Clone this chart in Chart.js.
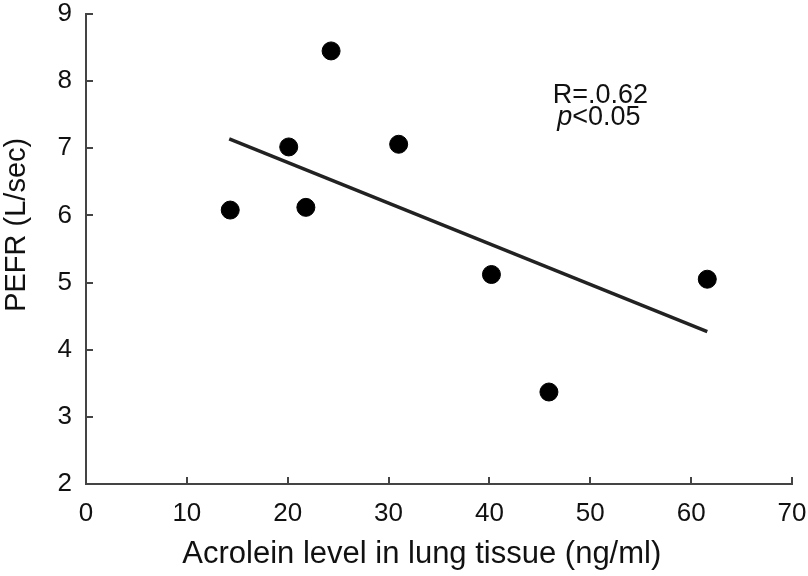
<!DOCTYPE html>
<html>
<head>
<meta charset="utf-8">
<script src="https://cdn.jsdelivr.net/npm/chart.js@4.4.1/dist/chart.umd.min.js"></script>
<style>
  html, body { margin: 0; padding: 0; background: #fff; }
  #wrap { width: 808px; height: 576px; }
</style>
</head>
<body>
<div id="wrap"><canvas id="chart"></canvas></div>
<script>
// values
const acrolein = [14.3, 20.1, 21.8, 24.3, 31.0, 40.2, 45.9, 61.6];
const pefr = [6.08, 7.02, 6.12, 8.45, 7.06, 5.12, 3.37, 5.05];
const trendX = [14.2, 61.6];
const trendY = [7.14, 4.27];
const statLines = ['R=.0.62', '<0.05'];

const FONT = "'Liberation Sans', Arial, Helvetica, sans-serif";

// small plugin for the R / p text
const statText = {
  id: 'statText',
  afterDatasetsDraw(chart) {
    const ctx = chart.ctx;
    const xs = chart.scales.x, ys = chart.scales.y;
    const cx = xs.getPixelForValue(51.0);
    const cy = ys.getPixelForValue(7.78);
    ctx.save();
    ctx.fillStyle = '#111';
    ctx.textBaseline = 'middle';
    ctx.font = '27px ' + FONT;
    ctx.textAlign = 'center';
    ctx.fillText(statLines[0], cx, cy);
    // second line with italic p
    const y2 = cy + 22;
    ctx.font = 'italic 27px ' + FONT;
    const wp = ctx.measureText('p').width;
    ctx.font = '27px ' + FONT;
    const wr = ctx.measureText(statLines[1]).width;
    let x0 = cx - 1.5 - (wp + wr) / 2;
    ctx.textAlign = 'left';
    ctx.font = 'italic 27px ' + FONT;
    ctx.fillText('p', x0, y2);
    ctx.font = '27px ' + FONT;
    ctx.fillText(statLines[1], x0 + wp, y2);
    ctx.restore();
  }
};

const ctx = document.getElementById('chart').getContext('2d');
new Chart(ctx, {
  type: 'scatter',
  data: {
    datasets: [
      {
        label: 'PEFR',
        data: acrolein.map((v, i) => ({ x: v, y: pefr[i] })),
        backgroundColor: '#000',
        borderColor: '#000',
        pointRadius: 9,
        pointHoverRadius: 9,
        order: 0
      },
      {
        type: 'line',
        label: 'fit',
        data: trendX.map((v, i) => ({ x: v, y: trendY[i] })),
        borderColor: '#222',
        borderWidth: 3.5,
        pointRadius: 0,
        fill: false,
        order: 1
      }
    ]
  },
  options: {
    responsive: true,
    maintainAspectRatio: false,
    animation: false,
    layout: { padding: { top: 14, right: 16, bottom: 0, left: 0 } },
    plugins: { legend: { display: false }, tooltip: { enabled: false } },
    scales: {
      x: {
        type: 'linear',
        min: 0, max: 70,
        afterFit(scale) {
          scale.height = 92;
          scale.paddingLeft = 0;
          scale.paddingRight = 0;
        },
        ticks: { stepSize: 10, color: '#111', padding: 21, font: { family: FONT, size: 26 } },
        grid: { drawOnChartArea: false, drawTicks: true, tickLength: -7, color: '#444', lineWidth: 2 },
        border: { display: true, color: '#444', width: 2 },
        title: {
          display: true,
          text: 'Acrolein level in lung tissue (ng/ml)    ',
          color: '#111',
          font: { family: FONT, size: 31 },
          padding: { top: 0, bottom: 3 }
        }
      },
      y: {
        min: 2, max: 9,
        afterFit(scale) {
          scale.width = 86;
          scale.paddingTop = 0;
          scale.paddingBottom = 0;
        },
        ticks: { stepSize: 1, color: '#111', padding: 21, font: { family: FONT, size: 26 } },
        grid: { drawOnChartArea: false, drawTicks: true, tickLength: -7, color: '#444', lineWidth: 2 },
        border: { display: true, color: '#444', width: 2 },
        title: {
          display: true,
          text: '      PEFR (L/sec)',
          color: '#111',
          font: { family: FONT, size: 29 },
          padding: { top: 0, bottom: 0 }
        }
      }
    }
  },
  plugins: [statText]
});
</script>
</body>
</html>
